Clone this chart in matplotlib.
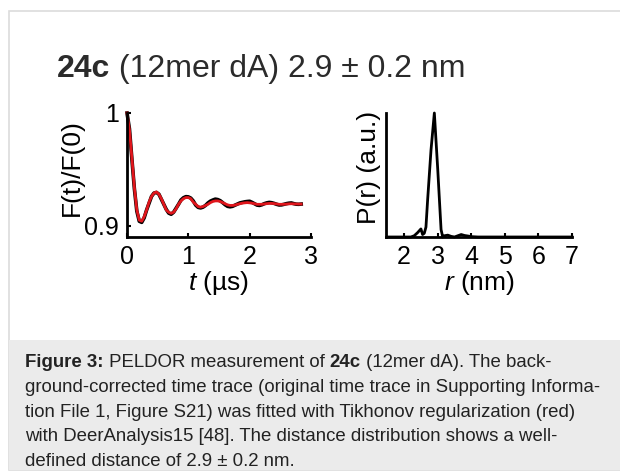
"""
PELDOR time trace and distance distribution for 24c (12mer dA).
"""

import matplotlib

matplotlib.use("Agg")
import matplotlib.pyplot as plt
from matplotlib.patches import Rectangle

plt.rcParams["font.family"] = ["Liberation Sans", "DejaVu Sans"]
plt.rcParams["mathtext.fontset"] = "custom"
plt.rcParams["mathtext.rm"] = "Liberation Sans"
plt.rcParams["mathtext.it"] = "Liberation Sans:italic"

# time trace (background corrected), t in us
t_data = [0.00, 0.04, 0.08, 0.12, 0.16, 0.20, 0.24, 0.28, 0.32, 0.36,
          0.40, 0.44, 0.48, 0.52, 0.56, 0.60, 0.64, 0.68, 0.72, 0.76,
          0.80, 0.84, 0.88, 0.92, 0.96, 1.00, 1.04, 1.08, 1.12, 1.16,
          1.20, 1.24, 1.28, 1.32, 1.36, 1.40, 1.44, 1.48, 1.52, 1.56,
          1.60, 1.64, 1.68, 1.72, 1.76, 1.80, 1.84, 1.88, 1.92, 1.96,
          2.00, 2.04, 2.08, 2.12, 2.16, 2.20, 2.24, 2.28, 2.32, 2.36,
          2.40, 2.44, 2.48, 2.52, 2.56, 2.60, 2.64, 2.68, 2.72, 2.76,
          2.80, 2.84]
f_data = [1.000, 0.986, 0.959, 0.933, 0.913, 0.904, 0.903, 0.907, 0.914, 0.920,
          0.926, 0.929, 0.9295, 0.928, 0.9235, 0.919, 0.9145, 0.9112, 0.9102, 0.912,
          0.9155, 0.919, 0.9228, 0.9248, 0.9258, 0.9256, 0.9245, 0.922, 0.9183, 0.9163,
          0.9158, 0.9165, 0.918, 0.9202, 0.9218, 0.9228, 0.9236, 0.9232, 0.9222, 0.9205,
          0.9186, 0.9172, 0.9168, 0.9172, 0.9182, 0.9192, 0.9202, 0.9207, 0.9212, 0.9215,
          0.9217, 0.9207, 0.9195, 0.9183, 0.918, 0.9186, 0.9196, 0.9203, 0.9207, 0.9204,
          0.9198, 0.919, 0.9184, 0.9185, 0.919, 0.9196, 0.92, 0.9202, 0.9196, 0.9191,
          0.919, 0.9192]
# Tikhonov fit
f_fit = [1.000, 0.985, 0.960, 0.934, 0.914, 0.905, 0.904, 0.908, 0.914, 0.921,
         0.926, 0.929, 0.930, 0.928, 0.924, 0.919, 0.914, 0.912, 0.911, 0.912,
         0.915, 0.919, 0.922, 0.924, 0.925, 0.925, 0.924, 0.921, 0.919, 0.917,
         0.9165, 0.917, 0.918, 0.919, 0.9205, 0.9215, 0.922, 0.922, 0.9215, 0.9205,
         0.9195, 0.9185, 0.918, 0.918, 0.9183, 0.919, 0.9195, 0.920, 0.9203, 0.9205,
         0.9203, 0.920, 0.9195, 0.919, 0.919, 0.919, 0.9193, 0.9196, 0.9198, 0.9198,
         0.9196, 0.9193, 0.919, 0.919, 0.919, 0.9192, 0.9194, 0.9195, 0.9194, 0.9193,
         0.9192, 0.9192]

# distance distribution
r_nm = [1.5, 2.0, 2.2, 2.3, 2.4, 2.5, 2.55, 2.6, 2.65, 2.7, 2.8, 2.9, 3.0, 3.1,
        3.15, 3.2, 3.3, 3.4, 3.5, 3.6, 3.7, 3.8, 3.9, 4.0, 4.2, 5.0, 6.0, 7.0]
p_r = [0.0, 0.0, 0.0, 0.01, 0.035, 0.065, 0.02, 0.03, 0.08, 0.3, 0.7, 1.0, 0.55, 0.06,
       0.0, 0.01, 0.015, 0.005, 0.0, 0.01, 0.02, 0.012, 0.008, 0.003, 0.0, 0.0, 0.0, 0.0]

W, H = 620, 472
fig = plt.figure(figsize=(W / 100, H / 100), dpi=100)


def fx(x):
    return x / W


def fy(y):
    return 1 - y / H


# frame and caption box, kept behind the axes
fig.patches.append(Rectangle((fx(9), fy(470)), fx(640), fy(11) - fy(470),
                             transform=fig.transFigure, fc="white", ec="#dcdcdc",
                             lw=1.2, zorder=-2))
fig.patches.append(Rectangle((fx(9), fy(470)), fx(640), fy(340) - fy(470),
                             transform=fig.transFigure, fc="#ebebeb", ec="none",
                             zorder=-1))

renderer = fig.canvas.get_renderer()


def runs(x, y, parts, size, color):
    """Draw text pieces one after another, (text, bold) pairs."""
    for s, bold in parts:
        txt = fig.text(fx(x), fy(y), s, fontsize=size, color=color,
                       fontweight="bold" if bold else "normal", va="baseline")
        x += txt.get_window_extent(renderer).width


runs(57, 77, [("24c", True), (" (12mer dA) 2.9 \u00b1 0.2 nm", False)], 23, "#2b2b2b")

caption = [
    [("Figure 3:", True), (" PELDOR measurement of ", False), ("24c", True),
     (" (12mer dA). The back-", False)],
    [("ground-corrected time trace (original time trace in Supporting Informa-", False)],
    [("tion File 1, Figure S21) was fitted with Tikhonov regularization (red)", False)],
    [("with DeerAnalysis15 [48]. The distance distribution shows a well-", False)],
    [("defined distance of 2.9 \u00b1 0.2 nm.", False)],
]
for i, line in enumerate(caption):
    runs(25, 367 + 24.8 * i, line, 13.4, "#222222")

tick_fs = 18
label_fs = 19

# left: time trace
ax1 = fig.add_axes([fx(127), fy(237), fx(311) - fx(127), fy(113) - fy(237)])
ax1.plot(t_data, f_data, color="black", lw=2.6, clip_on=False)
ax1.plot(t_data, f_fit, color="#e0161c", lw=2.0, clip_on=False)
ax1.set_xlim(0, 3)
ax1.set_ylim(0.89, 1.0)
ax1.set_xticks([0, 1, 2, 3])
ax1.set_xticklabels(["0", "1", "2", "3"])
ax1.set_yticks([0.9, 1.0])
ax1.set_yticklabels(["0.9", "1"])
ax1.set_xlabel("$t$ (\u00b5s)", fontsize=label_fs, labelpad=0)
ax1.set_ylabel("F(t)/F(0)", fontsize=label_fs)
ax1.yaxis.set_label_coords(-0.235, 0.56)

# right: distance distribution
ax2 = fig.add_axes([fx(386), fy(237), fx(572) - fx(386), fy(113) - fy(237)])
ax2.plot(r_nm, p_r, color="black", lw=2.0, clip_on=False)
ax2.set_xlim(1.46, 7.0)
ax2.set_ylim(0, 1.0)
ax2.set_xticks([2, 3, 4, 5, 6, 7])
ax2.set_yticks([])
ax2.set_xlabel("$r$ (nm)", fontsize=label_fs, labelpad=0)
ax2.set_ylabel("P(r) (a.u.)", fontsize=label_fs)
ax2.yaxis.set_label_coords(-0.025, 0.56)

for ax in (ax1, ax2):
    ax.patch.set_alpha(0)
    for side in ("top", "right"):
        ax.spines[side].set_visible(False)
    for side in ("left", "bottom"):
        ax.spines[side].set_linewidth(2.0)
    ax.tick_params(direction="in", length=3, width=1.5, labelsize=tick_fs, pad=6)

fig.savefig("out.png", dpi=100)
